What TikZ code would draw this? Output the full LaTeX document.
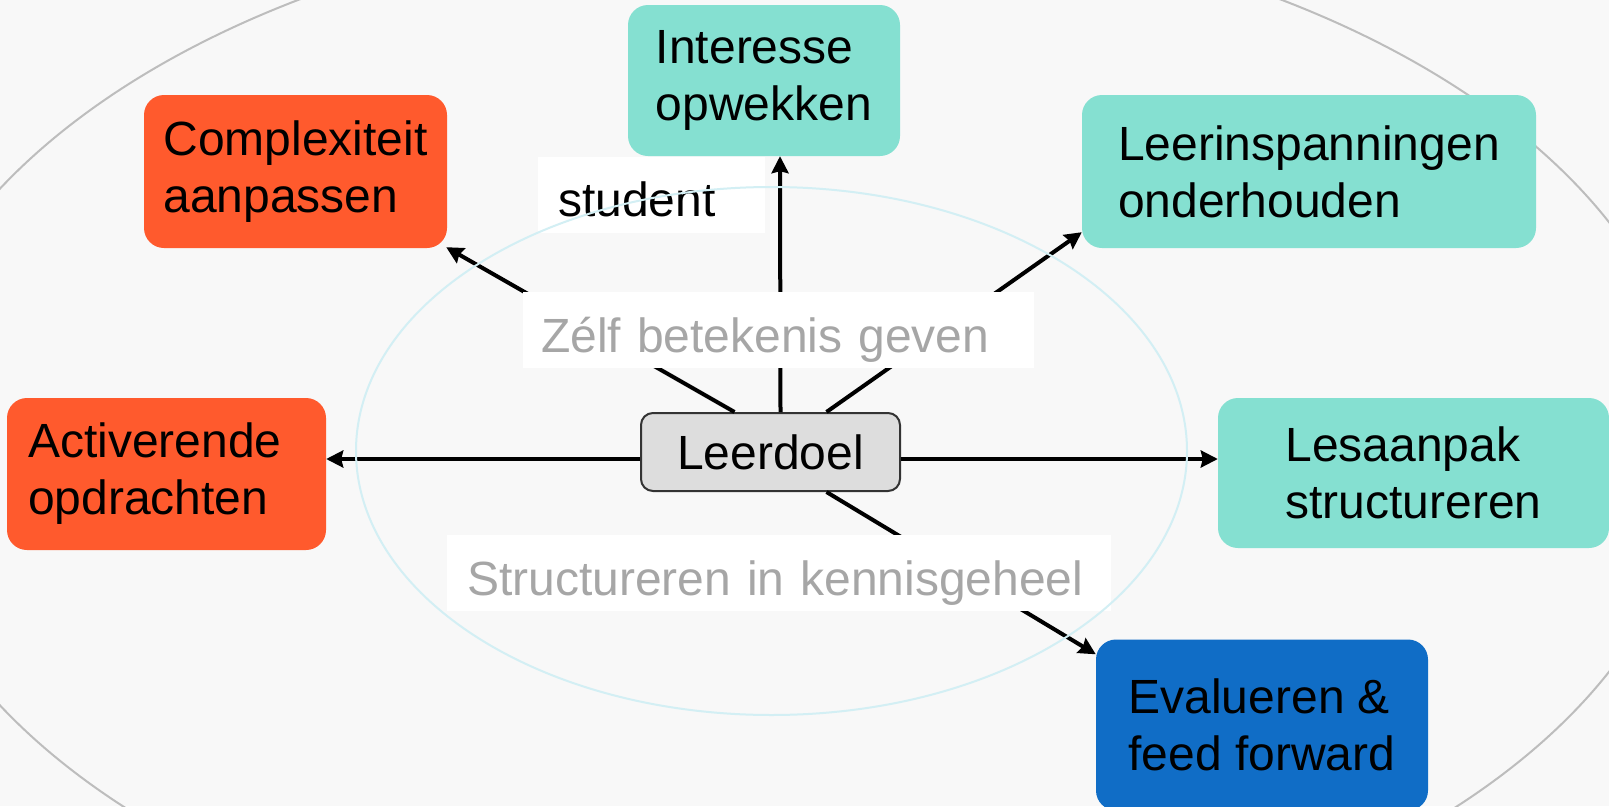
\documentclass[tikz,border=0pt]{standalone}
\usepackage{fontspec}
\setmainfont{Liberation Sans}
\usetikzlibrary{calc, arrows.meta, positioning}

\definecolor{cBack}{HTML}{F8F8F8}
\definecolor{cOuter}{HTML}{BDBDBD}
\definecolor{cInner}{HTML}{D3EFF4}
\definecolor{cOrange}{HTML}{FF5A2D}
\definecolor{cTeal}{HTML}{85E0D1}
\definecolor{cBlue}{HTML}{106DC6}
\definecolor{cDoel}{HTML}{DDDDDD}
\definecolor{cLabel}{HTML}{A6A6A6}

\begin{document}
\begin{tikzpicture}[x=1pt, y=-1pt,
    bigFont/.style={font=\fontsize{48}{57}\selectfont},
    doelBox/.style={bigFont, rounded corners=20pt, align=left, inner sep=0pt},
    labelBox/.style={bigFont, fill=white, align=left, inner ysep=0pt, minimum height=76pt,
                     text height=54pt, text depth=10pt},
    pijl/.style={line width=4pt, -{Stealth[length=17pt, width=17pt, inset=2pt]}}]

\useasboundingbox (0,0) rectangle (1609,806);
\clip (0,0) rectangle (1609,806);
\fill[cBack] (0,0) rectangle (1609,806);

% ellipsen
\draw[cOuter, line width=2pt] (790,447) ellipse [x radius=903pt, y radius=533pt];

% vakken
\node[doelBox, fill=cTeal, minimum width=272pt, minimum height=151pt] (interesse) at (764,80.5) {Interesse\\opwekken};
\node[doelBox, fill=cOrange, minimum width=303pt, minimum height=153pt] (complex) at (295.5,171.5) {Complexiteit\\aanpassen};
\node[doelBox, fill=cTeal, minimum width=454pt, minimum height=153pt] (leerinsp) at (1309,171.5) {Leerinspanningen\\onderhouden};
\node[doelBox, fill=cOrange, minimum width=319pt, minimum height=152pt,
      text width=277pt, inner xsep=21pt] (activ) at (166.5,474) {Activerende\\opdrachten};
\node[doelBox, fill=cTeal, minimum width=391pt, minimum height=150pt] (lesaanpak) at (1413.5,473) {Lesaanpak\\structureren};
\node[doelBox, fill=cBlue, minimum width=332pt, minimum height=171pt] (evalueren) at (1262,725) {Evalueren \&\\feed forward};
\node[doelBox, fill=cDoel, draw=black!80, line width=2pt, rounded corners=12pt,
      minimum width=259pt, minimum height=78pt] (leerdoel) at (770.5,452) {Leerdoel};

% pijlen
\draw[pijl] ([xshift=10pt]leerdoel.north) -- ([xshift=16pt]interesse.south);
\draw[pijl] ([xshift=-36pt]leerdoel.north) -- ([xshift=-1pt,yshift=1pt]complex.south east);
\draw[pijl] ([xshift=56pt]leerdoel.north) -- ([yshift=16pt]leerinsp.south west);
\draw[pijl] ([yshift=-7pt]leerdoel.west) -- ([yshift=15pt]activ.east);
\draw[pijl] ([yshift=-7pt]leerdoel.east) -- ([yshift=14pt]lesaanpak.west);
\draw[pijl] ([xshift=56pt]leerdoel.south) -- ([yshift=-15pt]evalueren.north west);

% labels
\node[labelBox, text width=187pt, inner xsep=20pt] (student) at (651.5,194.5) {student};
\node[labelBox, text=cLabel, text width=475pt, inner xsep=18pt] (zelf) at (778.5,330) {Zélf betekenis geven};
\node[labelBox, text=cLabel, text width=624pt, inner xsep=20pt] (struct) at (779,573) {Structureren in kennisgeheel};

\draw[cInner, line width=2pt] (771.5,451) ellipse [x radius=415.5pt, y radius=264pt];

\end{tikzpicture}
\end{document}
